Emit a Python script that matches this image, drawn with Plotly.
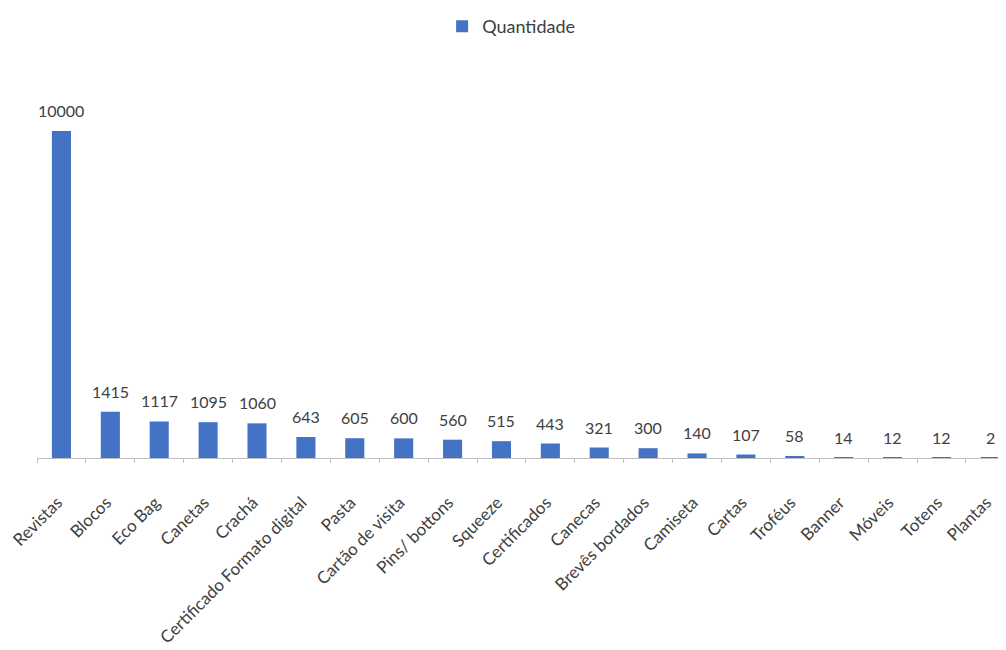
import plotly.graph_objects as go

categories = ["Revistas", "Blocos", "Eco Bag", "Canetas", "Crachá",
              "Certificado Formato digital", "Pasta", "Cartão de visita",
              "Pins/ bottons", "Squeeze", "Certificados", "Canecas",
              "Brevês bordados", "Camiseta", "Cartas", "Troféus", "Banner",
              "Móveis", "Totens", "Plantas"]
quantidade = [10000, 1415, 1117, 1095, 1060, 643, 605, 600, 560, 515, 443,
              321, 300, 140, 107, 58, 14, 12, 12, 2]
series_name = "Quantidade"

FONT = "Lato, 'Open Sans', sans-serif"
BAR = "#4472C4"
TXT = "#404040"

# The page body has an 8px default margin, so the figure is sized and
# laid out to compensate (figure spans page x 8..1006, y 8..650).
fig = go.Figure()
fig.add_trace(go.Bar(
    x=categories, y=quantidade, name=series_name,
    marker=dict(color=BAR, line=dict(width=0)),
    showlegend=True,
))

for c, v in zip(categories, quantidade):
    fig.add_annotation(x=c, y=v, text=str(v), showarrow=False,
                       yanchor="bottom", yshift=9,
                       font=dict(family=FONT, size=16, color=TXT))

fig.update_layout(
    width=998, height=642,
    margin=dict(l=29, r=0, t=72, b=192),
    paper_bgcolor="white", plot_bgcolor="white",
    bargap=0.61,
    font=dict(family=FONT, size=15, color=TXT),
    legend=dict(orientation="h", x=0.435, xref="container", xanchor="left",
                y=1.0, yref="container", yanchor="top",
                font=dict(family=FONT, size=18, color=TXT),
                itemwidth=30),
    xaxis=dict(type="category", range=[-0.5, 19.32],
               tickangle=-45, showline=True, linecolor="#BFBFBF",
               linewidth=1, ticks="outside", tickson="boundaries",
               ticklen=4, tickcolor="#BFBFBF", showgrid=False,
               ticklabelstandoff=27, ticklabelshift=-4,
               tickfont=dict(family=FONT, size=17, color=TXT)),
    yaxis=dict(range=[0, 11560], visible=False, showgrid=False,
               zeroline=False),
)

fig.write_html("out.html")
